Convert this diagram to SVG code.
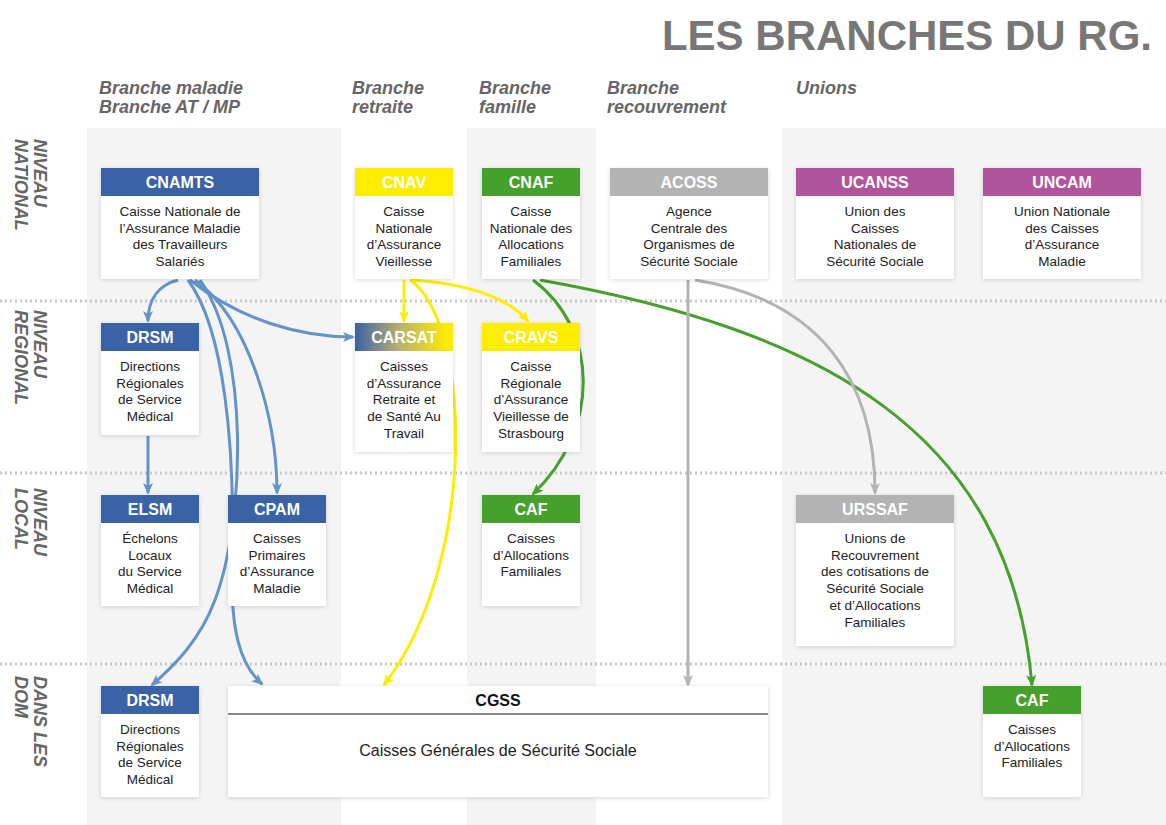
<svg xmlns="http://www.w3.org/2000/svg" width="1166" height="825" viewBox="0 0 1166 825">
<defs>
<style>
text{font-family:"Liberation Sans",Arial,sans-serif}
.hd{font-size:16px;font-weight:bold;fill:#fff;text-anchor:middle}
.bd{font-size:13.5px;fill:#222;text-anchor:middle}
.col{font-size:18px;font-weight:bold;font-style:italic;fill:#666}
.row{font-size:18px;font-weight:bold;font-style:italic;fill:#666}
.body{fill:#fff;filter:url(#sh)}
.sep{stroke:#c8c8c8;stroke-width:3;stroke-dasharray:2 3}
.c{fill:none;stroke-width:3}
.b{stroke:#6393c9}.y{stroke:#ffed00}.g{stroke:#45a02c}.k{stroke:#b3b3b3}
</style>
<filter id="sh" x="-10%" y="-10%" width="120%" height="130%"><feDropShadow dx="0" dy="1" stdDeviation="2" flood-color="#000" flood-opacity="0.15"/></filter>
<linearGradient id="gr" x1="0" x2="1"><stop offset="0" stop-color="#3a62a6"/><stop offset="0.45" stop-color="#b8b070"/><stop offset="0.95" stop-color="#ffed00"/></linearGradient>
<marker id="mb" markerWidth="12" markerHeight="10" refX="10" refY="5" orient="auto" markerUnits="userSpaceOnUse"><path d="M0,0 L12,5 L0,10 L3,5z" fill="#6393c9"/></marker>
<marker id="my" markerWidth="12" markerHeight="10" refX="10" refY="5" orient="auto" markerUnits="userSpaceOnUse"><path d="M0,0 L12,5 L0,10 L3,5z" fill="#ffed00"/></marker>
<marker id="mg" markerWidth="12" markerHeight="10" refX="10" refY="5" orient="auto" markerUnits="userSpaceOnUse"><path d="M0,0 L12,5 L0,10 L3,5z" fill="#45a02c"/></marker>
<marker id="mk" markerWidth="12" markerHeight="10" refX="10" refY="5" orient="auto" markerUnits="userSpaceOnUse"><path d="M0,0 L12,5 L0,10 L3,5z" fill="#b3b3b3"/></marker>
</defs>
<rect width="1166" height="825" fill="#fff"/>
<g id="bands" fill="#f4f4f4">
<rect x="87" y="128" width="254" height="697"/>
<rect x="467" y="128" width="129" height="697"/>
<rect x="782" y="128" width="384" height="697"/>
</g>
<g id="separators">
<line class="sep" x1="0" y1="301" x2="1166" y2="301"/>
<line class="sep" x1="0" y1="473" x2="1166" y2="473"/>
<line class="sep" x1="0" y1="664" x2="1166" y2="664"/>
</g>
<text x="1152" y="50" text-anchor="end" style="font-size:42px;font-weight:bold;fill:#777">LES BRANCHES DU RG.</text>
<g id="columns">
<text class="col" x="99" y="94">Branche maladie</text><text class="col" x="99" y="113">Branche AT / MP</text>
<text class="col" x="352" y="94">Branche</text><text class="col" x="352" y="113">retraite</text>
<text class="col" x="479" y="94">Branche</text><text class="col" x="479" y="113">famille</text>
<text class="col" x="607" y="94">Branche</text><text class="col" x="607" y="113">recouvrement</text>
<text class="col" x="796" y="94">Unions</text>
</g>
<g id="rows">
<text class="row" transform="translate(34,139) rotate(90)"><tspan x="0" y="0">NIVEAU</tspan><tspan x="0" y="19">NATIONAL</tspan></text>
<text class="row" transform="translate(34,310) rotate(90)"><tspan x="0" y="0">NIVEAU</tspan><tspan x="0" y="19">REGIONAL</tspan></text>
<text class="row" transform="translate(34,488) rotate(90)"><tspan x="0" y="0">NIVEAU</tspan><tspan x="0" y="19">LOCAL</tspan></text>
<text class="row" transform="translate(34,676) rotate(90)"><tspan x="0" y="0">DANS LES</tspan><tspan x="0" y="19">DOM</tspan></text>
</g>
<g id="connectors">
<path class="c b" marker-end="url(#mb)" d="M178,280 C158,285 148,300 148,321"/>
<path class="c b" marker-end="url(#mb)" d="M190,280 C240,320 300,337 353,337"/>
<path class="c b" marker-end="url(#mb)" d="M195,280 C250,320 277,420 277,493"/>
<path class="c b" marker-end="url(#mb)" d="M188,280 C225,330 235,450 232,560 C230,630 240,665 262,684"/>
<path class="c b" marker-end="url(#mb)" d="M200,280 C250,350 245,520 215,600 C200,640 175,665 152,685"/>
<path class="c b" marker-end="url(#mb)" d="M148,436 L148,493"/>
<path class="c y" marker-end="url(#my)" d="M404,280 L404,321"/>
<path class="c y" marker-end="url(#my)" d="M410,280 C460,283 505,295 528,321"/>
<path class="c y" marker-end="url(#my)" d="M410,280 C470,320 480,560 384,685"/>
<path class="c g" marker-end="url(#mg)" d="M533,280 C600,330 600,430 533,494"/>
<path class="c g" marker-end="url(#mg)" d="M540,280 C820,330 1010,430 1032,685"/>
<path class="c k" marker-end="url(#mk)" d="M688,280 L688,685"/>
<path class="c k" marker-end="url(#mk)" d="M695,280 C820,300 875,380 875,493"/>
</g>
<g id="cnamts"><rect class="body" x="101" y="168" width="158" height="111"/><rect x="101" y="168" width="158" height="28" fill="#3a62a6"/><text class="hd" x="180" y="188">CNAMTS</text><text class="bd" x="180" y="216"><tspan x="180">Caisse Nationale de</tspan><tspan x="180" dy="16.7">l’Assurance Maladie</tspan><tspan x="180" dy="16.7">des Travailleurs</tspan><tspan x="180" dy="16.7">Salariés</tspan></text></g>
<g id="cnav"><rect class="body" x="355" y="168" width="98" height="111"/><rect x="355" y="168" width="98" height="28" fill="#ffed00"/><text class="hd" x="404" y="188">CNAV</text><text class="bd" x="404" y="216"><tspan x="404">Caisse</tspan><tspan x="404" dy="16.7">Nationale</tspan><tspan x="404" dy="16.7">d’Assurance</tspan><tspan x="404" dy="16.7">Vieillesse</tspan></text></g>
<g id="cnaf"><rect class="body" x="482" y="168" width="98" height="111"/><rect x="482" y="168" width="98" height="28" fill="#45a02c"/><text class="hd" x="531" y="188">CNAF</text><text class="bd" x="531" y="216"><tspan x="531">Caisse</tspan><tspan x="531" dy="16.7">Nationale des</tspan><tspan x="531" dy="16.7">Allocations</tspan><tspan x="531" dy="16.7">Familiales</tspan></text></g>
<g id="acoss"><rect class="body" x="610" y="168" width="158" height="111"/><rect x="610" y="168" width="158" height="28" fill="#b3b3b3"/><text class="hd" x="689" y="188">ACOSS</text><text class="bd" x="689" y="216"><tspan x="689">Agence</tspan><tspan x="689" dy="16.7">Centrale des</tspan><tspan x="689" dy="16.7">Organismes de</tspan><tspan x="689" dy="16.7">Sécurité Sociale</tspan></text></g>
<g id="ucanss"><rect class="body" x="796" y="168" width="158" height="111"/><rect x="796" y="168" width="158" height="28" fill="#b0559c"/><text class="hd" x="875" y="188">UCANSS</text><text class="bd" x="875" y="216"><tspan x="875">Union des</tspan><tspan x="875" dy="16.7">Caisses</tspan><tspan x="875" dy="16.7">Nationales de</tspan><tspan x="875" dy="16.7">Sécurité Sociale</tspan></text></g>
<g id="uncam"><rect class="body" x="983" y="168" width="158" height="111"/><rect x="983" y="168" width="158" height="28" fill="#b0559c"/><text class="hd" x="1062" y="188">UNCAM</text><text class="bd" x="1062" y="216"><tspan x="1062">Union Nationale</tspan><tspan x="1062" dy="16.7">des Caisses</tspan><tspan x="1062" dy="16.7">d’Assurance</tspan><tspan x="1062" dy="16.7">Maladie</tspan></text></g>
<g id="drsm"><rect class="body" x="101" y="323" width="98" height="112"/><rect x="101" y="323" width="98" height="28" fill="#3a62a6"/><text class="hd" x="150" y="343">DRSM</text><text class="bd" x="150" y="371"><tspan x="150">Directions</tspan><tspan x="150" dy="16.7">Régionales</tspan><tspan x="150" dy="16.7">de Service</tspan><tspan x="150" dy="16.7">Médical</tspan></text></g>
<g id="carsat"><rect class="body" x="355" y="323" width="98" height="129"/><rect x="355" y="323" width="98" height="28" fill="url(#gr)"/><text class="hd" x="404" y="343">CARSAT</text><text class="bd" x="404" y="371"><tspan x="404">Caisses</tspan><tspan x="404" dy="16.7">d’Assurance</tspan><tspan x="404" dy="16.7">Retraite et</tspan><tspan x="404" dy="16.7">de Santé Au</tspan><tspan x="404" dy="16.7">Travail</tspan></text></g>
<g id="cravs"><rect class="body" x="482" y="323" width="98" height="129"/><rect x="482" y="323" width="98" height="28" fill="#ffed00"/><text class="hd" x="531" y="343">CRAVS</text><text class="bd" x="531" y="371"><tspan x="531">Caisse</tspan><tspan x="531" dy="16.7">Régionale</tspan><tspan x="531" dy="16.7">d’Assurance</tspan><tspan x="531" dy="16.7">Vieillesse de</tspan><tspan x="531" dy="16.7">Strasbourg</tspan></text></g>
<g id="elsm"><rect class="body" x="101" y="495" width="98" height="111"/><rect x="101" y="495" width="98" height="28" fill="#3a62a6"/><text class="hd" x="150" y="515">ELSM</text><text class="bd" x="150" y="543"><tspan x="150">Échelons</tspan><tspan x="150" dy="16.7">Locaux</tspan><tspan x="150" dy="16.7">du Service</tspan><tspan x="150" dy="16.7">Médical</tspan></text></g>
<g id="cpam"><rect class="body" x="228" y="495" width="98" height="111"/><rect x="228" y="495" width="98" height="28" fill="#3a62a6"/><text class="hd" x="277" y="515">CPAM</text><text class="bd" x="277" y="543"><tspan x="277">Caisses</tspan><tspan x="277" dy="16.7">Primaires</tspan><tspan x="277" dy="16.7">d’Assurance</tspan><tspan x="277" dy="16.7">Maladie</tspan></text></g>
<g id="caf"><rect class="body" x="482" y="495" width="98" height="111"/><rect x="482" y="495" width="98" height="28" fill="#45a02c"/><text class="hd" x="531" y="515">CAF</text><text class="bd" x="531" y="543"><tspan x="531">Caisses</tspan><tspan x="531" dy="16.7">d’Allocations</tspan><tspan x="531" dy="16.7">Familiales</tspan></text></g>
<g id="urssaf"><rect class="body" x="796" y="495" width="158" height="151"/><rect x="796" y="495" width="158" height="28" fill="#b3b3b3"/><text class="hd" x="875" y="515">URSSAF</text><text class="bd" x="875" y="543"><tspan x="875">Unions de</tspan><tspan x="875" dy="16.7">Recouvrement</tspan><tspan x="875" dy="16.7">des cotisations de</tspan><tspan x="875" dy="16.7">Sécurité Sociale</tspan><tspan x="875" dy="16.7">et d’Allocations</tspan><tspan x="875" dy="16.7">Familiales</tspan></text></g>
<g id="drsm-dom"><rect class="body" x="101" y="686" width="98" height="111"/><rect x="101" y="686" width="98" height="28" fill="#3a62a6"/><text class="hd" x="150" y="706">DRSM</text><text class="bd" x="150" y="734"><tspan x="150">Directions</tspan><tspan x="150" dy="16.7">Régionales</tspan><tspan x="150" dy="16.7">de Service</tspan><tspan x="150" dy="16.7">Médical</tspan></text></g>
<g id="cgss"><rect class="body" x="228" y="686" width="540" height="111"/><line x1="228" y1="714" x2="768" y2="714" stroke="#111" stroke-width="1.2"/><text x="498" y="706" text-anchor="middle" style="font-size:16px;font-weight:bold;fill:#111">CGSS</text><text x="498" y="756" text-anchor="middle" style="font-size:16px;fill:#222">Caisses Générales de Sécurité Sociale</text></g>
<g id="caf-dom"><rect class="body" x="983" y="686" width="98" height="111"/><rect x="983" y="686" width="98" height="28" fill="#45a02c"/><text class="hd" x="1032" y="706">CAF</text><text class="bd" x="1032" y="734"><tspan x="1032">Caisses</tspan><tspan x="1032" dy="16.7">d’Allocations</tspan><tspan x="1032" dy="16.7">Familiales</tspan></text></g>
</svg>
